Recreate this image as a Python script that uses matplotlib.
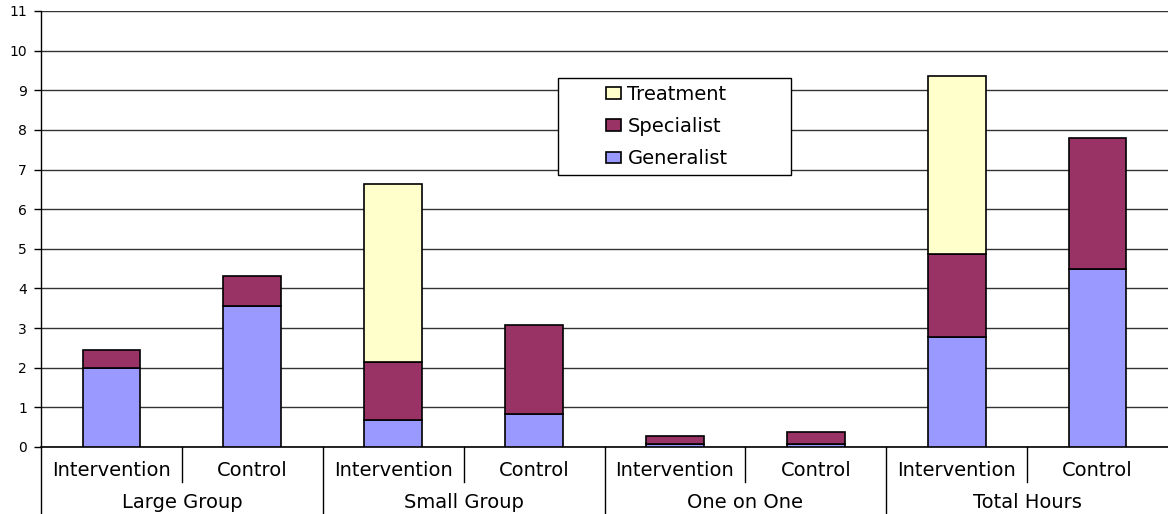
import matplotlib.pyplot as plt
import numpy as np
from matplotlib.patches import Rectangle

groups = ['Large Group', 'Small Group', 'One on One', 'Total Hours']
arms = ['Intervention', 'Control']

generalist = [2.00, 3.56, 0.68, 0.84, 0.07, 0.08, 2.77, 4.49]
specialist = [0.45, 0.76, 1.47, 2.25, 0.22, 0.31, 2.10, 3.30]
treatment = [0.00, 0.00, 4.49, 0.00, 0.00, 0.00, 4.50, 0.00]

c_gen = '#9999ff'
c_spec = '#993366'
c_treat = '#ffffcc'

plt.rcParams['font.family'] = ['DejaVu Sans']

W, H = 1168, 514
fig = plt.figure(figsize=(W / 100, H / 100), dpi=100)
ax = fig.add_axes([41 / W, 1 - 447 / H, 1 - 41 / W, 436 / H])

n = len(generalist)
x = np.arange(n)
gen = np.array(generalist)
spec = np.array(specialist)
treat = np.array(treatment)

w = 0.41
ax.bar(x, gen, w, color=c_gen, edgecolor='black', linewidth=1.2, label='Generalist', zorder=3)
ax.bar(x, spec, w, bottom=gen, color=c_spec, edgecolor='black', linewidth=1.2, label='Specialist', zorder=3)
mask = treat > 0
ax.bar(x[mask], treat[mask], w, bottom=(gen + spec)[mask], color=c_treat, edgecolor='black',
       linewidth=1.2, label='Treatment', zorder=3)

ax.set_xlim(-0.5, n - 0.5)
ax.set_ylim(0, 11)
ax.set_yticks(range(0, 12))
ax.tick_params(axis='y', labelsize=10, length=5, width=1, direction='out', pad=5)
ax.grid(axis='y', color='#333333', linewidth=1, zorder=0)
ax.set_axisbelow(True)
for s in ['top', 'right']:
    ax.spines[s].set_visible(False)
ax.spines['left'].set_linewidth(1)
ax.spines['bottom'].set_linewidth(1.2)
ax.set_xticks([])

# two-level category axis
trans = ax.get_xaxis_transform()
px = 1 / 436  # one pixel in axes fraction
for i in range(n):
    ax.text(x[i], -24 * px, arms[i % 2], transform=trans, ha='center', va='center', fontsize=14)
for g, name in enumerate(groups):
    ax.text(2 * g + 0.5, -55 * px, name, transform=trans, ha='center', va='center', fontsize=14)
for b in range(n):
    xb = b - 0.5
    bottom = -67 * px if b % 2 == 0 else -35 * px
    ax.plot([xb, xb], [0, bottom], transform=trans, color='black', linewidth=1, clip_on=False)

# legend box drawn separately (Excel-style wide frame)
fig.patches.append(Rectangle((558 / W, 1 - 175 / H), (791 - 558) / W, (175 - 78) / H,
                             transform=fig.transFigure, facecolor='white', edgecolor='black',
                             linewidth=1, zorder=4))
handles, labels = ax.get_legend_handles_labels()
leg = fig.legend(handles[::-1], labels[::-1], loc='upper left',
                 bbox_to_anchor=(606 / W, 1 - 85 / H),
                 fontsize=14, frameon=False,
                 handlelength=0.75, handleheight=0.55, handletextpad=0.35,
                 labelspacing=0.68, borderpad=0, borderaxespad=0)
leg.set_zorder(5)

fig.savefig('out.png', dpi=100)
